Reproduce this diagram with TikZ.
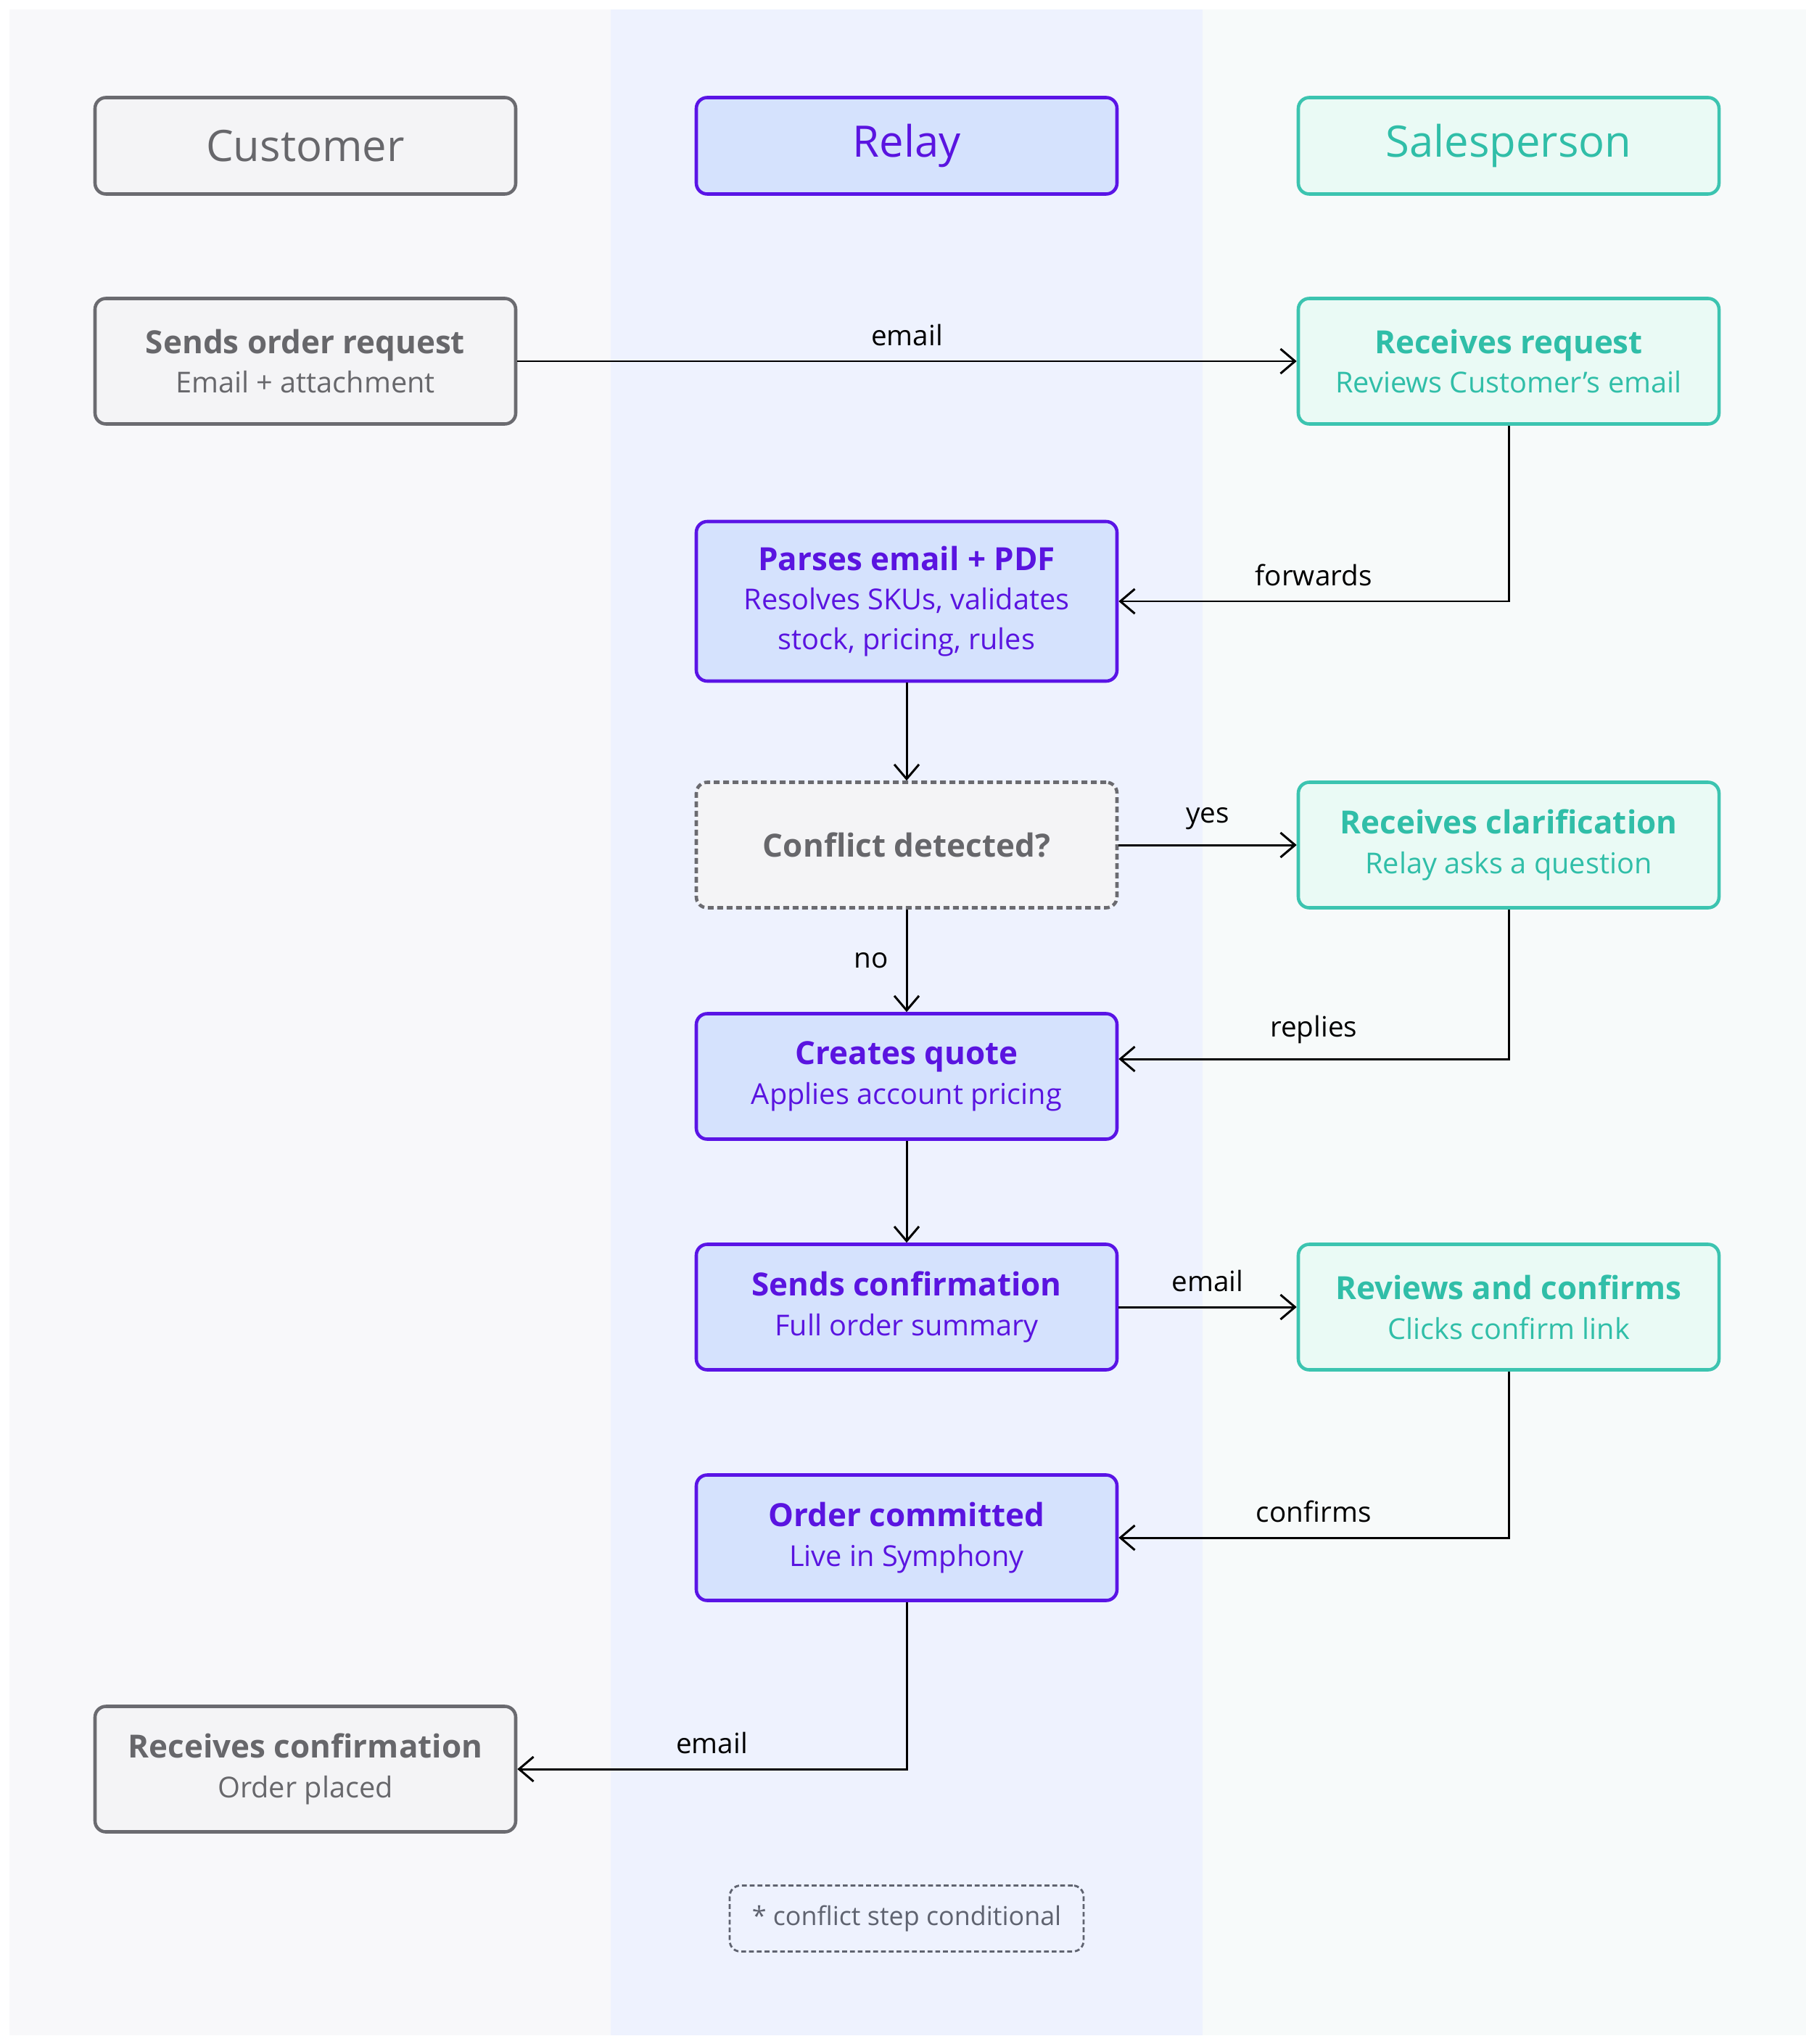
\documentclass[tikz,border=0pt]{standalone}
\usepackage{fontspec}
\setmainfont{Open Sans}
\usepackage{xcolor}
\usepackage{tikz}
\usetikzlibrary{arrows.meta,calc}

\definecolor{custline}{HTML}{6B6B70}
\definecolor{custfill}{HTML}{F4F4F6}
\definecolor{custtext}{HTML}{67676B}
\definecolor{relayline}{HTML}{5A14E6}
\definecolor{relayfill}{HTML}{D5E2FD}
\definecolor{relaytext}{HTML}{5A14E0}
\definecolor{salesline}{HTML}{3CC4B0}
\definecolor{salesfill}{HTML}{EAFAF5}
\definecolor{salestext}{HTML}{30BEA8}
\definecolor{lanegray}{HTML}{F8F8FA}
\definecolor{laneblue}{HTML}{EEF2FE}
\definecolor{lanegreen}{HTML}{F7FAFA}
\definecolor{notegray}{HTML}{5F6370}

\tikzset{
  box/.style={rectangle, rounded corners=0.15cm, line width=1.3pt,
    minimum width=5.8cm, minimum height=1.73cm, inner sep=0pt,
    align=center, font=\fontsize{11.3}{15.6}\selectfont},
  custbox/.style={box, draw=custline, fill=custfill, text=custtext},
  relaybox/.style={box, draw=relayline, fill=relayfill, text=relaytext},
  salesbox/.style={box, draw=salesline, fill=salesfill, text=salestext},
  headbox/.style={minimum height=1.33cm, font=\fontsize{17}{20}\selectfont},
  checkbox/.style={custbox, dash pattern=on 0.08cm off 0.05cm},
  notebox/.style={rectangle, rounded corners=0.15cm, draw=notegray, line width=0.8pt,
    dash pattern=on 0.067cm off 0.04cm, minimum width=4.88cm, minimum height=0.91cm,
    inner sep=0pt, text=notegray, font=\fontsize{10.2}{12}\selectfont},
  flow/.style={line width=0.85pt, -{Straight Barb[length=0.2cm,width=0.34cm]}},
  lbl/.style={font=\fontsize{11}{13}\selectfont, text=black, inner sep=0.12cm},
}
\newcommand{\steptitle}[1]{{\fontsize{12.5}{15.6}\selectfont\bfseries #1}}

\begin{document}
\begin{tikzpicture}
    % Fix the page size and draw the three lanes
    \useasboundingbox (0,0) rectangle (25,-28.18);
    \fill[white] (0,0) rectangle (25,-28.18);
    \fill[lanegray] (0.13,-0.13) rectangle (8.42,-28.06);
    \fill[laneblue] (8.42,-0.13) rectangle (16.58,-28.06);
    \fill[lanegreen] (16.58,-0.13) rectangle (24.9,-28.06);

    % Lane headers
    \node[custbox, headbox] (customer) at (4.21,-2.01) {Customer};
    \node[relaybox, headbox] (relay) at (12.50,-2.01) {Relay};
    \node[salesbox, headbox] (sales) at (20.80,-2.01) {Salesperson};

    % Customer steps
    \node[custbox] (request) at (4.21,-4.98) {\steptitle{Sends order request}\\Email + attachment};
    \node[custbox] (gotconf) at (4.21,-24.39) {\steptitle{Receives confirmation}\\Order placed};

    % Relay steps
    \node[relaybox, minimum height=2.2cm] (parse) at (12.50,-8.29) {\steptitle{Parses email + PDF}\\Resolves SKUs, validates\\stock, pricing, rules};
    \node[checkbox] (conflict) at (12.50,-11.65) {\steptitle{Conflict detected?}};
    \node[relaybox] (quote) at (12.50,-14.84) {\steptitle{Creates quote}\\Applies account pricing};
    \node[relaybox] (sendconf) at (12.50,-18.02) {\steptitle{Sends confirmation}\\Full order summary};
    \node[relaybox] (commit) at (12.50,-21.20) {\steptitle{Order committed}\\Live in Symphony};

    % Salesperson steps
    \node[salesbox] (receive) at (20.80,-4.98) {\steptitle{Receives request}\\Reviews Customer’s email};
    \node[salesbox] (clarify) at (20.80,-11.65) {\steptitle{Receives clarification}\\Relay asks a question};
    \node[salesbox] (review) at (20.80,-18.02) {\steptitle{Reviews and confirms}\\Clicks confirm link};

    % Footnote
    \node[notebox] (note) at (12.50,-26.45) {* conflict step conditional};

    % Connectors
    \draw[flow] (request) -- node[lbl, above=0.08cm] {email} (receive);
    \draw[flow] (receive.south) |- node[lbl, above=0.08cm, pos=0.75] {forwards} (parse.east);
    \draw[flow] (parse) -- (conflict);
    \draw[flow] (conflict) -- node[lbl, above=0.08cm] {yes} (clarify);
    \draw[flow] (conflict) -- node[lbl, left=0.12cm] {no} (quote);
    \draw[flow] (clarify.south) |- node[lbl, above=0.08cm, pos=0.75] {replies} ($(quote.east)+(0,0.24)$);
    \draw[flow] (quote) -- (sendconf);
    \draw[flow] (sendconf) -- node[lbl, above=0.08cm] {email} (review);
    \draw[flow] (review.south) |- node[lbl, above=0.08cm, pos=0.75] {confirms} (commit.east);
    \draw[flow] (commit.south) |- node[lbl, above=0.08cm, pos=0.75] {email} (gotconf.east);
\end{tikzpicture}
\end{document}
